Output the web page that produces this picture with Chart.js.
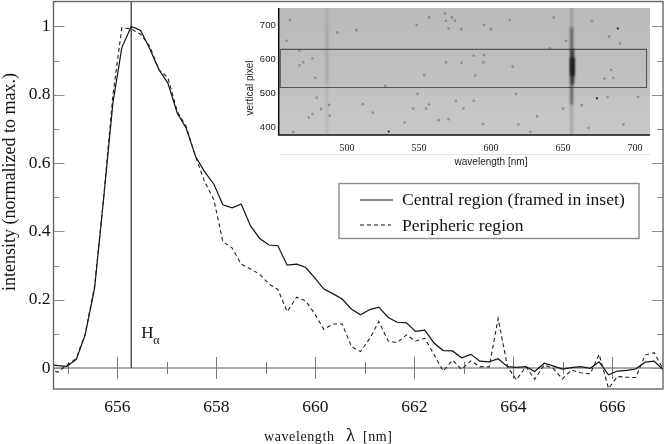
<!DOCTYPE html>
<html>
<head>
<meta charset="utf-8">
<title>H-alpha profile</title>
<script src="https://cdn.jsdelivr.net/npm/chart.js@4/dist/chart.umd.js"></script>
<style>
  html, body { margin: 0; padding: 0; background: #fff; }
  #wrap { position: relative; width: 664px; height: 444px; overflow: hidden; }
  #mainChart { position: absolute; left: 0; top: 0; }
  #insetChart { position: absolute; left: 230px; top: 0; }
</style>
</head>
<body>
<div id="wrap">
  <canvas id="mainChart" width="664" height="444"></canvas>
  <canvas id="insetChart" width="424" height="170"></canvas>
</div>
<script>
// ====================
// Data
// ====================

const wavelengths = [
  654.61, 654.80, 654.98, 655.17, 655.35, 655.54, 655.72, 655.91, 656.09,
  656.28, 656.47, 656.65, 656.84, 657.02, 657.21, 657.39, 657.58, 657.76,
  657.95, 658.13, 658.32, 658.50, 658.69, 658.87, 659.06, 659.24, 659.43,
  659.62, 659.80, 659.99, 660.17, 660.36, 660.54, 660.73, 660.91, 661.10,
  661.28, 661.47, 661.65, 661.84, 662.02, 662.21, 662.39, 662.58, 662.77,
  662.95, 663.14, 663.32, 663.51, 663.69, 663.88, 664.06, 664.25, 664.43,
  664.62, 664.80, 664.99, 665.17, 665.36, 665.55, 665.73, 665.92, 666.10,
  666.29, 666.47, 666.66, 666.84, 667.03,
];

const centralRegion = [
  0.010, 0.007, 0.005, 0.025, 0.097, 0.234, 0.492, 0.776, 0.938,
  1.000, 0.988, 0.936, 0.873, 0.834, 0.746, 0.702, 0.619, 0.575,
  0.538, 0.478, 0.469, 0.480, 0.416, 0.380, 0.360, 0.358, 0.301,
  0.304, 0.295, 0.263, 0.231, 0.217, 0.202, 0.172, 0.156, 0.171,
  0.178, 0.148, 0.134, 0.132, 0.107, 0.111, 0.074, 0.051, 0.050,
  0.030, 0.040, 0.020, 0.018, 0.027, 0.004, 0.002, 0.004, -0.010,
  0.014, 0.006, -0.003, 0.001, 0.004, -0.001, 0.018, -0.020, -0.009,
  -0.007, -0.003, 0.017, 0.020, -0.006,
];

const periphericRegion = [
  -0.003, -0.012, 0.009, 0.028, 0.100, 0.240, 0.495, 0.800, 0.996,
  0.993, 0.977, 0.943, 0.873, 0.850, 0.751, 0.707, 0.619, 0.546,
  0.492, 0.370, 0.351, 0.304, 0.290, 0.275, 0.246, 0.230, 0.165,
  0.207, 0.197, 0.158, 0.113, 0.129, 0.129, 0.062, 0.048, 0.087,
  0.136, 0.079, 0.074, 0.097, 0.079, 0.087, 0.041, -0.009, 0.023,
  -0.004, 0.021, 0.004, 0.003, 0.145, 0.004, -0.035, 0.004, -0.033,
  0.009, -0.001, -0.032, -0.006, -0.014, -0.017, 0.040, -0.060, -0.025,
  -0.027, -0.028, 0.038, 0.045, -0.006,
];

const hAlpha = 656.28;

const xTickValues = [656, 658, 660, 662, 664, 666];
const xMinorValues = [655, 657, 659, 661, 663, 665];
const yTickValues = [0, 0.2, 0.4, 0.6, 0.8, 1];
const yMinorValues = [0.1, 0.3, 0.5, 0.7, 0.9];

const insetXTicks = [500, 550, 600, 650, 700];
const insetYTicks = [400, 500, 600, 700];

// dust specks on the detector image
const speckNm = [
  460.4, 458, 467, 469.6, 467, 476, 478, 479, 476, 473.5, 482, 487.6, 488, 493.3, 506.5,
  511, 518, 526.5, 540, 548.4, 557, 568, 568.7, 572.8, 575, 570.5, 579.5, 595, 600, 613,
  643.5, 652, 640.8, 588, 595, 568.7, 579.5, 594.7, 615, 553.7, 589, 549, 617.5, 575.6, 588,
  557, 555, 546, 581, 563.6, 570.5, 632, 650, 663, 681, 702, 667.7, 692, 670, 682,
  689.6, 683.4, 678.8, 685, 462.7, 627.4, 619, 594.5,
];
const speckPixel = [
  714.7, 654, 625, 591, 582, 602, 545, 487, 439, 429, 454, 466, 434, 678.5, 685,
  468, 443, 521, 414, 700, 722.5, 734, 712.7, 722.5, 712.7, 690, 688, 700, 688, 714.7,
  722.5, 654, 631.6, 610, 612, 590.5, 589.5, 590.5, 578, 553, 552, 498, 498, 477, 478,
  467, 455, 455, 455, 421, 424, 432, 455, 465, 489, 489, 398, 408, 712, 666,
  646, 568, 543, 544.6, 386, 387, 408, 410,
];
const darkSpeckNm = [529, 673.5, 688];
const darkSpeckPixel = [388, 485, 690];

const frameNm = [453.7, 708, 708, 453.7, 453.7];
const framePixel = [628.7, 628.7, 517, 517, 628.7];

const serif = "'Liberation Serif', 'Times New Roman', serif";
const sans = "'Liberation Sans', Arial, sans-serif";

const legendLabels = ["Central region (framed in inset)", "Peripheric region"];

// ====================
// Main chart
// ====================

const mainMarks = {
  id: "mainMarks",
  beforeDatasetsDraw(chart) {
    const { ctx, chartArea: a, scales: { x, y } } = chart;
    const zero = y.getPixelForValue(0);
    ctx.save();
    ctx.strokeStyle = "#8e8e8e";
    ctx.lineWidth = 1.6;
    ctx.beginPath();
    ctx.moveTo(a.left, zero);
    ctx.lineTo(a.right, zero);
    ctx.stroke();

    ctx.strokeStyle = "#777";
    ctx.lineWidth = 1;
    ctx.beginPath();
    xTickValues.forEach((v) => {
      const px = Math.round(x.getPixelForValue(v)) + 0.5;
      ctx.moveTo(px, zero - 11);
      ctx.lineTo(px, zero + 11);
    });
    xMinorValues.forEach((v) => {
      const px = Math.round(x.getPixelForValue(v)) + 0.5;
      ctx.moveTo(px, zero - 6);
      ctx.lineTo(px, zero + 6);
    });
    ctx.stroke();

    ctx.strokeStyle = "#8e8e8e";
    ctx.lineWidth = 1.2;
    ctx.beginPath();
    yTickValues.forEach((v) => {
      const py = Math.round(y.getPixelForValue(v)) + 0.5;
      ctx.moveTo(a.left, py);
      ctx.lineTo(a.left + 11, py);
      ctx.moveTo(a.right, py);
      ctx.lineTo(a.right - 11, py);
    });
    yMinorValues.forEach((v) => {
      const py = Math.round(y.getPixelForValue(v)) + 0.5;
      ctx.moveTo(a.left, py);
      ctx.lineTo(a.left + 6, py);
      ctx.moveTo(a.right, py);
      ctx.lineTo(a.right - 6, py);
    });
    ctx.stroke();
    ctx.restore();
  },
  afterDraw(chart) {
    const { ctx, chartArea: a, scales: { x } } = chart;
    ctx.save();

    // plot frame
    ctx.strokeStyle = "#666";
    ctx.lineWidth = 1.4;
    ctx.strokeRect(a.left, a.top, a.right - a.left, a.bottom - a.top);

    // H alpha label
    const hx = x.getPixelForValue(hAlpha) + 10;
    ctx.fillStyle = "#111";
    ctx.textBaseline = "alphabetic";
    ctx.textAlign = "left";
    ctx.font = "17px " + serif;
    ctx.fillText("H", hx, 338);
    ctx.font = "12px " + serif;
    ctx.fillText("α", hx + 12, 344);

    // x axis title, lambda is set larger
    ctx.font = "14px " + serif;
    ctx.letterSpacing = "0.6px";
    ctx.fillText("wavelength", 264, 441);
    ctx.fillText("[nm]", 363, 441);
    ctx.letterSpacing = "0px";
    ctx.font = "19px " + serif;
    ctx.fillText("λ", 346, 441);

    // y axis title sits above the middle of the axis
    ctx.save();
    ctx.translate(15, 182);
    ctx.rotate(-Math.PI / 2);
    ctx.textAlign = "center";
    ctx.font = "18px " + serif;
    ctx.fillText("intensity (normalized to max.)", 0, 0);
    ctx.restore();

    // legend
    ctx.strokeStyle = "#8a8a8a";
    ctx.lineWidth = 1.4;
    ctx.fillStyle = "#fff";
    ctx.fillRect(339, 183.5, 300, 55);
    ctx.strokeRect(339, 183.5, 300, 55);
    ctx.strokeStyle = "#111";
    ctx.lineWidth = 1.2;
    ctx.beginPath();
    ctx.moveTo(360, 200);
    ctx.lineTo(393, 200);
    ctx.stroke();
    ctx.setLineDash([4, 3]);
    ctx.beginPath();
    ctx.moveTo(360, 225);
    ctx.lineTo(391, 225);
    ctx.stroke();
    ctx.setLineDash([]);
    ctx.fillStyle = "#111";
    ctx.font = "17.6px " + serif;
    ctx.fillText(legendLabels[0], 402, 205);
    ctx.fillText(legendLabels[1], 402, 231);
    ctx.restore();
  },
};

new Chart(document.getElementById("mainChart"), {
  type: "line",
  plugins: [mainMarks],

  data: {
    datasets: [
      {
        label: legendLabels[1],
        data: wavelengths.map((v, i) => ({ x: v, y: periphericRegion[i] })),
        borderColor: "#222",
        borderWidth: 1.1,
        borderDash: [4, 3],
        pointRadius: 0,
        tension: 0,
      },
      {
        label: legendLabels[0],
        data: wavelengths.map((v, i) => ({ x: v, y: centralRegion[i] })),
        borderColor: "#111",
        borderWidth: 1.2,
        pointRadius: 0,
        tension: 0,
      },
      {
        label: "H alpha",
        data: [
          { x: hAlpha, y: 0 },
          { x: hAlpha, y: 1.073 },
        ],
        borderColor: "#555",
        borderWidth: 1.5,
        pointRadius: 0,
      },
    ],
  },

  options: {
    responsive: false,
    animation: false,
    layout: {
      padding: { top: 1.5, right: 1, left: 0, bottom: 0 },
    },
    plugins: {
      legend: { display: false },
      tooltip: { enabled: false },
    },
    scales: {
      x: {
        type: "linear",
        min: 654.71,
        max: 667.02,
        grid: { display: false, drawTicks: false },
        border: { display: false },
        afterBuildTicks(scale) {
          scale.ticks = xTickValues.map((value) => ({ value }));
        },
        afterFit(scale) {
          scale.height = 55;
          scale.paddingLeft = 0;
          scale.paddingRight = 0;
        },
        ticks: {
          autoSkip: false,
          maxRotation: 0,
          padding: 8,
          color: "#111",
          font: { family: serif, size: 17.5 },
          callback: (v) => String(v),
        },
      },
      y: {
        min: -0.0615,
        max: 1.073,
        grid: { display: false, drawTicks: false },
        border: { display: false },
        afterBuildTicks(scale) {
          scale.ticks = yTickValues.map((value) => ({ value }));
        },
        afterFit(scale) {
          scale.width = 53.5;
          scale.paddingTop = 0;
          scale.paddingBottom = 0;
        },
        ticks: {
          autoSkip: false,
          padding: 3,
          color: "#111",
          font: { family: serif, size: 17.5 },
          callback: (v) => String(v),
        },
      },
    },
  },
});

// ====================
// Inset
// ====================

const insetImage = {
  id: "insetImage",
  beforeDatasetsDraw(chart) {
    const { ctx, chartArea: a } = chart;
    const shade = ctx.createLinearGradient(0, a.top, 0, a.bottom);
    shade.addColorStop(0, "#b9b9b9");
    shade.addColorStop(0.5, "#bfbfbf");
    shade.addColorStop(1, "#c8c8c8");
    ctx.save();
    ctx.fillStyle = shade;
    ctx.fillRect(a.left, a.top, a.right - a.left, a.bottom - a.top);
    ctx.restore();
  },
  // the spectral bands are soft, the specks a little less so
  beforeDatasetDraw(chart, args) {
    chart.ctx.save();
    if (args.index < 6) chart.ctx.filter = "blur(1.2px)";
    else if (args.index === 6) chart.ctx.filter = "blur(0.6px)";
  },
  afterDatasetDraw(chart) {
    chart.ctx.restore();
  },
  afterDraw(chart) {
    const { ctx, chartArea: a } = chart;
    ctx.save();
    ctx.strokeStyle = "#111";
    ctx.lineWidth = 1.5;
    ctx.beginPath();
    ctx.moveTo(a.left, a.top);
    ctx.lineTo(a.left, a.bottom);
    ctx.lineTo(a.right, a.bottom);
    ctx.stroke();
    ctx.strokeStyle = "#e4e4e4";
    ctx.lineWidth = 1;
    ctx.beginPath();
    ctx.moveTo(a.left + 1, 154.5);
    ctx.lineTo(a.right, 154.5);
    ctx.stroke();

    ctx.fillStyle = "#222";
    ctx.font = "10px " + sans;
    ctx.textAlign = "center";
    ctx.textBaseline = "middle";
    ctx.fillText("wavelength [nm]", 261, 162);
    ctx.translate(20, 88);
    ctx.rotate(-Math.PI / 2);
    ctx.fillText("vertical pixel", 0, 0);
    ctx.restore();
  },
};

function band(nm, from, to, color, width) {
  return {
    type: "line",
    data: [
      { x: nm, y: from },
      { x: nm, y: to },
    ],
    borderColor: color,
    borderWidth: width,
    borderCapStyle: "round",
    pointRadius: 0,
  };
}

new Chart(document.getElementById("insetChart"), {
  type: "scatter",
  plugins: [insetImage],

  data: {
    datasets: [
      band(486, 378, 750, "rgba(90,90,90,0.13)", 3),
      band(486, 530, 700, "rgba(70,70,70,0.14)", 1.5),
      band(656, 378, 750, "rgba(60,60,60,0.28)", 2.5),
      band(656, 470, 690, "rgba(30,30,30,0.55)", 2.5),
      band(656.5, 530, 625, "rgba(20,20,20,0.7)", 3.5),
      band(656.5, 555, 600, "rgba(10,10,10,0.9)", 4.5),
      {
        data: speckNm.map((v, i) => ({ x: v, y: speckPixel[i] })),
        backgroundColor: "rgba(90,90,90,0.5)",
        borderWidth: 0,
        pointRadius: 1.3,
      },
      {
        data: darkSpeckNm.map((v, i) => ({ x: v, y: darkSpeckPixel[i] })),
        backgroundColor: "#111",
        borderWidth: 0,
        pointRadius: 1,
      },
      {
        type: "line",
        data: frameNm.map((v, i) => ({ x: v, y: framePixel[i] })),
        borderColor: "#555",
        borderWidth: 1.1,
        pointRadius: 0,
      },
    ],
  },

  options: {
    responsive: false,
    animation: false,
    layout: {
      padding: { top: 8, right: 2.3, left: 0, bottom: 0 },
    },
    plugins: {
      legend: { display: false },
      tooltip: { enabled: false },
    },
    scales: {
      x: {
        type: "linear",
        min: 452.6,
        max: 710.4,
        grid: { display: false, drawTicks: false },
        border: { display: false },
        afterBuildTicks(scale) {
          scale.ticks = insetXTicks.map((value) => ({ value }));
        },
        afterFit(scale) {
          scale.height = 35;
          scale.paddingLeft = 0;
          scale.paddingRight = 0;
        },
        ticks: {
          autoSkip: false,
          maxRotation: 0,
          padding: 7,
          color: "#222",
          font: { family: serif, size: 10 },
          callback: (v) => String(v),
        },
      },
      y: {
        min: 377.5,
        max: 750,
        grid: { display: false, drawTicks: false },
        border: { display: false },
        afterBuildTicks(scale) {
          scale.ticks = insetYTicks.map((value) => ({ value }));
        },
        afterFit(scale) {
          scale.width = 48.7;
          scale.paddingTop = 0;
          scale.paddingBottom = 0;
        },
        ticks: {
          autoSkip: false,
          padding: 3,
          color: "#222",
          font: { family: sans, size: 9.5 },
          callback: (v) => String(v),
        },
      },
    },
  },
});
</script>
</body>
</html>
